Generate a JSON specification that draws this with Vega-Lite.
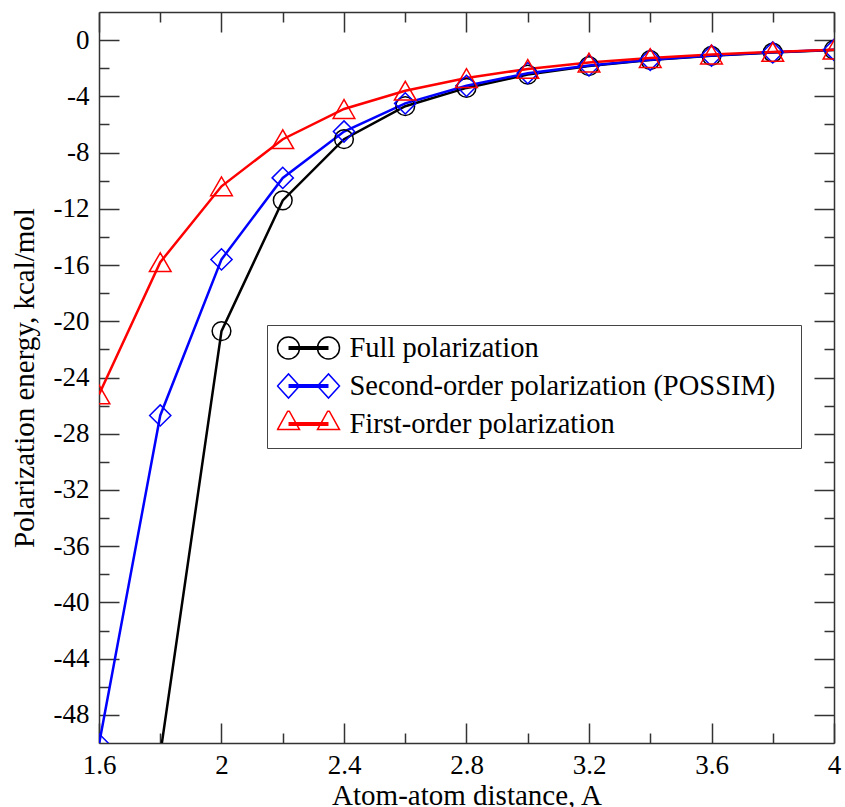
{
  "$schema": "https://vega.github.io/schema/vega-lite/v6.json",
  "width": 735,
  "height": 731,
  "autosize": "none",
  "padding": {"left": 99, "top": 12, "right": 11, "bottom": 64},
  "background": "white",
  "config": {
    "view": {"stroke": null},
    "font": "Liberation Serif, Times New Roman, DejaVu Serif, serif"
  },
  "data": {
    "values": [
      {"x": 1.8, "E": -50.8, "series": "Full polarization"},
      {"x": 2.0, "E": -20.7, "series": "Full polarization"},
      {"x": 2.2, "E": -11.4, "series": "Full polarization"},
      {"x": 2.4, "E": -7.05, "series": "Full polarization"},
      {"x": 2.6, "E": -4.7, "series": "Full polarization"},
      {"x": 2.8, "E": -3.4, "series": "Full polarization"},
      {"x": 3.0, "E": -2.45, "series": "Full polarization"},
      {"x": 3.2, "E": -1.85, "series": "Full polarization"},
      {"x": 3.4, "E": -1.42, "series": "Full polarization"},
      {"x": 3.6, "E": -1.12, "series": "Full polarization"},
      {"x": 3.8, "E": -0.88, "series": "Full polarization"},
      {"x": 4.0, "E": -0.7, "series": "Full polarization"},
      {"x": 1.6, "E": -50.1, "series": "Second-order polarization (POSSIM)"},
      {"x": 1.8, "E": -26.7, "series": "Second-order polarization (POSSIM)"},
      {"x": 2.0, "E": -15.6, "series": "Second-order polarization (POSSIM)"},
      {"x": 2.2, "E": -9.8, "series": "Second-order polarization (POSSIM)"},
      {"x": 2.4, "E": -6.5, "series": "Second-order polarization (POSSIM)"},
      {"x": 2.6, "E": -4.5, "series": "Second-order polarization (POSSIM)"},
      {"x": 2.8, "E": -3.25, "series": "Second-order polarization (POSSIM)"},
      {"x": 3.0, "E": -2.35, "series": "Second-order polarization (POSSIM)"},
      {"x": 3.2, "E": -1.8, "series": "Second-order polarization (POSSIM)"},
      {"x": 3.4, "E": -1.4, "series": "Second-order polarization (POSSIM)"},
      {"x": 3.6, "E": -1.1, "series": "Second-order polarization (POSSIM)"},
      {"x": 3.8, "E": -0.87, "series": "Second-order polarization (POSSIM)"},
      {"x": 4.0, "E": -0.69, "series": "Second-order polarization (POSSIM)"},
      {"x": 1.6, "E": -25.2, "series": "First-order polarization"},
      {"x": 1.8, "E": -15.8, "series": "First-order polarization"},
      {"x": 2.0, "E": -10.4, "series": "First-order polarization"},
      {"x": 2.2, "E": -7.05, "series": "First-order polarization"},
      {"x": 2.4, "E": -4.9, "series": "First-order polarization"},
      {"x": 2.6, "E": -3.6, "series": "First-order polarization"},
      {"x": 2.8, "E": -2.7, "series": "First-order polarization"},
      {"x": 3.0, "E": -2.05, "series": "First-order polarization"},
      {"x": 3.2, "E": -1.6, "series": "First-order polarization"},
      {"x": 3.4, "E": -1.28, "series": "First-order polarization"},
      {"x": 3.6, "E": -1.03, "series": "First-order polarization"},
      {"x": 3.8, "E": -0.84, "series": "First-order polarization"},
      {"x": 4.0, "E": -0.68, "series": "First-order polarization"}
    ]
  },
  "layer": [
    {
      "mark": {"type": "line", "strokeWidth": 2.5, "clip": true},
      "encoding": {
        "x": {
          "field": "x", "type": "quantitative",
          "scale": {"domain": [1.6, 4.0], "nice": false, "zero": false},
          "axis": {
            "orient": "bottom",
            "values": [1.6, 1.8, 2.0, 2.2, 2.4, 2.6, 2.8, 3.0, 3.2, 3.4, 3.6, 3.8, 4.0],
            "tickSize": {"condition": {"test": "round(datum.value*10)%4==0", "value": -20}, "value": -10},
            "labelExpr": "round(datum.value*10)%4==0 ? '' + datum.value : ''",
            "labelPadding": 29,
            "labelFlush": false,
            "labelOverlap": false,
            "labelFont": "Liberation Serif, Times New Roman, DejaVu Serif, serif",
            "labelFontSize": 27,
            "labelColor": "black",
            "domainColor": "#333",
            "domainWidth": 1.5,
            "tickColor": "#333",
            "tickWidth": 1.5,
            "grid": false,
            "title": "Atom-atom distance, A",
            "titleFont": "Liberation Serif, Times New Roman, DejaVu Serif, serif",
            "titleFontSize": 29,
            "titleFontWeight": "normal",
            "titleColor": "black",
            "titleBaseline": "alphabetic",
            "titleY": 61
          }
        },
        "y": {
          "field": "E", "type": "quantitative",
          "scale": {"domain": [-50, 2], "nice": false, "zero": false},
          "axis": {
            "orient": "left",
            "values": [0, -2, -4, -6, -8, -10, -12, -14, -16, -18, -20, -22, -24, -26, -28, -30, -32, -34, -36, -38, -40, -42, -44, -46, -48],
            "tickSize": {"condition": {"test": "round(datum.value)%4==0", "value": -20}, "value": -10},
            "labelExpr": "round(datum.value)%4==0 ? '' + datum.value : ''",
            "labelPadding": 30,
            "labelOverlap": false,
            "labelFont": "Liberation Serif, Times New Roman, DejaVu Serif, serif",
            "labelFontSize": 27,
            "labelColor": "black",
            "domainColor": "#333",
            "domainWidth": 1.5,
            "tickColor": "#333",
            "tickWidth": 1.5,
            "grid": false,
            "title": "Polarization energy, kcal/mol",
            "titleFont": "Liberation Serif, Times New Roman, DejaVu Serif, serif",
            "titleFontSize": 29,
            "titleFontWeight": "normal",
            "titleColor": "black",
            "titleBaseline": "alphabetic",
            "titleX": -66
          }
        },
        "color": {
          "field": "series", "type": "nominal",
          "scale": {
            "domain": ["Full polarization", "Second-order polarization (POSSIM)", "First-order polarization"],
            "range": ["#000000", "#0000ff", "#ff0000"]
          },
          "legend": {
            "title": null,
            "orient": "none",
            "legendX": 168,
            "legendY": 313,
            "padding": 9.5,
            "strokeColor": "#444",
            "fillColor": "white",
            "symbolSize": 3844,
            "symbolStrokeWidth": 1.5,
            "symbolOffset": 0,
            "clipHeight": 27,
            "rowPadding": 9,
            "labelOffset": 9,
            "labelFont": "Liberation Serif, Times New Roman, DejaVu Serif, serif",
            "labelFontSize": 28.5,
            "labelColor": "black",
            "labelLimit": 0,
            "encode": {
              "entries": {
                "update": {
                  "width": {"value": 515}
                }
              },
              "symbols": {
                "update": {
                  "fill": {"value": "transparent"},
                  "size": {"value": 3844},
                  "strokeWidth": {"value": 1.5},
                  "shape": {"signal": "datum.value === 'Full polarization' ? 'M-0.29,0A0.355,0.355,0,1,0,-1,0A0.355,0.355,0,1,0,-0.29,0ZM1,0A0.355,0.355,0,1,0,0.29,0A0.355,0.355,0,1,0,1,0ZM-0.645,-0.04L0.645,-0.04M-0.645,0L0.645,0M-0.645,0.04L0.645,0.04' : datum.value === 'First-order polarization' ? 'M-0.645,-0.46L-0.29,0.18L-1,0.18ZM0.645,-0.46L1,0.18L0.29,0.18ZM-0.645,-0.04L0.645,-0.04M-0.645,0L0.645,0M-0.645,0.04L0.645,0.04' : 'M-1,0L-0.645,-0.39L-0.29,0L-0.645,0.39ZM0.29,0L0.645,-0.39L1,0L0.645,0.39ZM-0.645,-0.04L0.645,-0.04M-0.645,0L0.645,0M-0.645,0.04L0.645,0.04'"}
                }
              }
            }
          }
        }
      }
    },
    {
      "transform": [{"filter": "datum.series === 'Full polarization'"}],
      "mark": {"type": "point", "filled": false, "strokeWidth": 1.5, "clip": true, "opacity": 1, "shape": "circle", "size": 350, "color": "#000000"},
      "encoding": {
        "x": {
          "field": "x", "type": "quantitative",
          "axis": {
            "orient": "top",
            "values": [1.6, 1.8, 2.0, 2.2, 2.4, 2.6, 2.8, 3.0, 3.2, 3.4, 3.6, 3.8, 4.0],
            "tickSize": {"condition": {"test": "round(datum.value*10)%4==0", "value": -20}, "value": -10},
            "labels": false,
            "domainColor": "#333",
            "domainWidth": 1.5,
            "tickColor": "#333",
            "tickWidth": 1.5,
            "grid": false,
            "title": null
          }
        },
        "y": {
          "field": "E", "type": "quantitative",
          "axis": {
            "orient": "right",
            "values": [0, -2, -4, -6, -8, -10, -12, -14, -16, -18, -20, -22, -24, -26, -28, -30, -32, -34, -36, -38, -40, -42, -44, -46, -48],
            "tickSize": {"condition": {"test": "round(datum.value)%4==0", "value": -20}, "value": -10},
            "labels": false,
            "domainColor": "#333",
            "domainWidth": 1.5,
            "tickColor": "#333",
            "tickWidth": 1.5,
            "grid": false,
            "title": null
          }
        }
      }
    },
    {
      "transform": [{"filter": "datum.series === 'Second-order polarization (POSSIM)'"}],
      "mark": {"type": "point", "filled": false, "strokeWidth": 1.5, "clip": true, "opacity": 1, "shape": "diamond", "size": 450, "color": "#0000ff"},
      "encoding": {
        "x": {"field": "x", "type": "quantitative", "axis": null},
        "y": {"field": "E", "type": "quantitative", "axis": null}
      }
    },
    {
      "transform": [{"filter": "datum.series === 'First-order polarization'"}],
      "mark": {"type": "point", "filled": false, "strokeWidth": 1.5, "clip": true, "opacity": 1, "shape": "triangle-up", "size": 470, "color": "#ff0000"},
      "encoding": {
        "x": {"field": "x", "type": "quantitative", "axis": null},
        "y": {"field": "E", "type": "quantitative", "axis": null}
      }
    }
  ],
  "resolve": {"axis": {"x": "independent", "y": "independent"}}
}
